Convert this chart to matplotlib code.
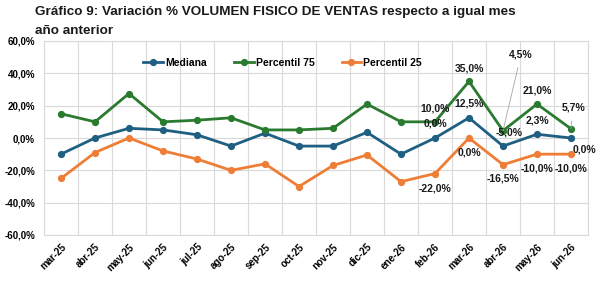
import matplotlib
matplotlib.use("Agg")
import matplotlib.pyplot as plt
import numpy as np

months = ["mar-25", "abr-25", "may-25", "jun-25", "jul-25", "ago-25", "sep-25", "oct-25",
          "nov-25", "dic-25", "ene-26", "feb-26", "mar-26", "abr-26", "may-26", "jun-26"]
mediana = [-10.0, 0.0, 6.0, 5.0, 2.0, -5.0, 3.0, -5.0, -5.0, 3.5, -10.0, 0.0, 12.5, -5.0, 2.3, 0.0]
p75 = [15.0, 10.0, 27.5, 10.0, 11.0, 12.5, 5.0, 5.0, 6.0, 21.0, 10.0, 10.0, 35.0, 4.5, 21.0, 5.7]
p25 = [-25.0, -9.0, 0.0, -8.0, -13.0, -20.0, -16.0, -30.0, -17.0, -10.5, -27.0, -22.0, 0.0, -16.5, -10.0, -10.0]
yticks = [-60, -40, -20, 0, 20, 40, 60]

c_med = "#1F5F82"
c_p75 = "#2A7A30"
c_p25 = "#EE7D36"

plt.rcParams['font.family'] = ['Liberation Sans', 'DejaVu Sans']

fig = plt.figure(figsize=(6.04, 2.83), dpi=100)
W, H = 604, 283
ax = fig.add_axes([44 / W, 1 - 235 / H, (588 - 44) / W, (235 - 41) / H])

x = np.arange(len(months))
lw = 2.0
ms = 4.2
ax.plot(x, mediana, color=c_med, lw=lw, marker="o", ms=ms, label="Mediana", zorder=3)
ax.plot(x, p75, color=c_p75, lw=lw, marker="o", ms=ms, label="Percentil 75", zorder=3)
ax.plot(x, p25, color=c_p25, lw=lw, marker="o", ms=ms, label="Percentil 25", zorder=3)

ax.set_xlim(-0.5, len(months) - 0.5)
ax.set_ylim(-60, 60)
ax.set_yticks(yticks)
ax.set_yticklabels([f"{v:.1f}%".replace(".", ",") for v in yticks], fontsize=7, fontweight="bold")
ax.set_xticks(x)
ax.set_xticklabels(months, rotation=45, ha="right", rotation_mode="anchor", fontsize=7, fontweight="bold")
ax.set_xticks(np.arange(-0.5, len(months), 1), minor=True)
ax.tick_params(axis="y", which="both", length=0, pad=6.5)
ax.tick_params(axis="x", which="both", length=0, pad=5)
ax.grid(True, axis="y", color="#D9D9D9", lw=0.8)
ax.grid(True, axis="x", which="minor", color="#D9D9D9", lw=0.8)
ax.grid(False, axis="x", which="major")
ax.set_axisbelow(True)
for s in ax.spines.values():
    s.set_color("#D9D9D9")
    s.set_linewidth(0.8)

def fmt(v):
    return f"{v:.1f}%".replace(".", ",")

lab = dict(fontsize=7.5, fontweight="bold", ha="center", va="center", color="#1a1a1a", zorder=5)
def ann(i, series, dy_pt, dx_pt=0, leader=False):
    v = series[i]
    kw = dict(lab)
    if leader:
        ax.annotate(fmt(v), xy=(i, v), xytext=(dx_pt, dy_pt), textcoords="offset points",
                    arrowprops=dict(arrowstyle="-", color="#A6A6A6", lw=0.6, shrinkA=4, shrinkB=0), **kw)
    else:
        ax.annotate(fmt(v), xy=(i, v), xytext=(dx_pt, dy_pt), textcoords="offset points", **kw)

# feb-26
ann(11, p75, 9.5)
ann(11, mediana, 10.5)
ann(11, p25, -10.5)
# mar-26
ann(12, p75, 9.5)
ann(12, mediana, 10)
ann(12, p25, -10.5)
# abr-26
ann(13, p75, 55, 13, leader=True)
ann(13, mediana, 10, 4.5)
ann(13, p25, -10)
# may-26
ann(14, p75, 10)
ann(14, mediana, 10)
ann(14, p25, -10.5)
# jun-26
ann(15, p75, 15, 1.5, leader=True)
ann(15, mediana, -8, 10)
ann(15, p25, -10.5)

ax.legend(loc="center left", bbox_to_anchor=(95 / 544, 1 - 22 / 194), ncol=3, frameon=False,
          prop=dict(size=7.5, weight="bold"), handlelength=1.9, handletextpad=0.2,
          columnspacing=2.6, borderaxespad=0)

fig.text(35 / W, 1 - 12.5 / H, "Gráfico 9: Variación % VOLUMEN FISICO DE VENTAS respecto a igual mes",
         fontsize=9.7, fontweight="bold", va="center", ha="left", color="#1a1a1a")
fig.text(35 / W, 1 - 31 / H, "año anterior",
         fontsize=9.7, fontweight="bold", va="center", ha="left", color="#1a1a1a")

fig.savefig("out.png", dpi=100)
